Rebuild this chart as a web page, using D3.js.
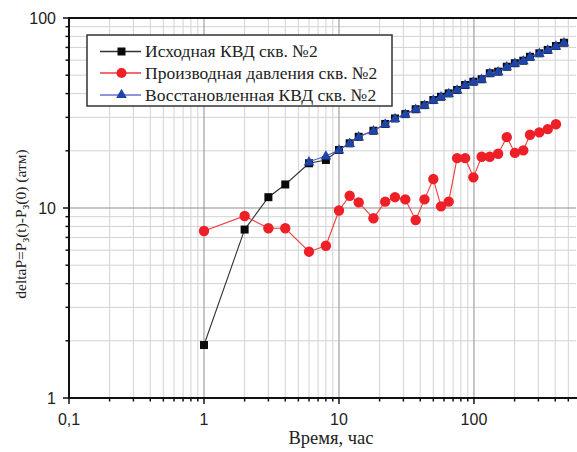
<!DOCTYPE html>
<html>
<head>
<meta charset="utf-8">
<script src="https://cdn.jsdelivr.net/npm/d3@7"></script>
<style>
  html, body { margin: 0; padding: 0; background: #fff; }
  svg { display: block; }
  .tick-label { font-family: "Liberation Sans", Arial, sans-serif; font-size: 16px; fill: #222; }
  .serif { font-family: "Liberation Serif", "Times New Roman", serif; fill: #222; }
</style>
</head>
<body>
<div id="chart"></div>
<script>
// DATA

// Исходная КВД скв. №2 (black squares)
const timeSource = [1, 2, 3, 4, 6, 8, 10, 12, 14, 18, 22, 26, 31, 37, 43, 50, 57, 65, 75, 86,
  99, 114, 131, 151, 175, 201, 232, 260, 305, 352, 405, 464];
const dpSource = [1.9, 7.7, 11.4, 13.3, 17.2, 17.9, 20.2, 21.9, 23.7, 25.5, 27.7, 29.6, 31.2, 33.1,
  34.8, 37.0, 38.5, 40.1, 41.8, 44.4, 46.2, 47.6, 51.2, 52.2, 55.4, 57.8, 59.6, 62.5, 65.2, 67.9,
  71.2, 74.1];

// Производная давления скв. №2 (red circles)
const timeDeriv = [1, 2, 3, 4, 6, 8, 10, 12, 14, 18, 22, 26, 31, 37, 43, 50, 57, 65, 75, 86,
  99, 114, 131, 151, 175, 201, 232, 260, 305, 352, 405];
const dpDeriv = [7.57, 9.08, 7.82, 7.82, 5.89, 6.33, 9.7, 11.6, 10.7, 8.83, 10.8, 11.4, 11.1, 8.65,
  11.1, 14.2, 10.2, 10.8, 18.3, 18.3, 14.5, 18.6, 18.6, 19.3, 23.6, 19.5, 20.1, 24.3, 25.0, 26.0,
  27.6];

// Восстановленная КВД скв. №2 (blue triangles)
const timeRestored = [6, 8, 10, 12, 14, 18, 22, 26, 31, 37, 43, 50, 57, 65, 75, 86, 99, 114,
  131, 151, 175, 201, 232, 260, 305, 352, 405, 464];
const dpRestored = [17.5, 18.8, 20.2, 21.9, 23.7, 25.5, 27.7, 29.6, 31.2, 33.1, 34.8, 37.0, 38.5,
  40.1, 41.8, 44.4, 46.2, 47.6, 51.2, 52.2, 55.4, 57.8, 59.6, 62.5, 65.2, 67.9, 71.2, 74.1];

const xTickValues = [0.1, 1, 10, 100];
const xTickLabels = ["0,1", "1", "10", "100"];
const yTickValues = [1, 10, 100];
const yTickLabels = ["1", "10", "100"];

const legendLabels = [
  "Исходная КВД скв. №2",
  "Производная давления скв. №2",
  "Восстановленная КВД скв. №2",
];

// LAYOUT

const W = 577, H = 452;
const plotL = 69, plotR = 576, plotT = 18, plotB = 398;

const x = d3.scaleLog().domain([0.1, 570]).range([plotL, plotR]);
const y = d3.scaleLog().domain([1, 100]).range([plotB, plotT]);

const svg = d3.select("#chart").append("svg")
  .attr("width", W).attr("height", H);

// GRID

// minor values 2..9 in every decade
const minorX = [];
[0.1, 1, 10, 100].forEach(d => {
  for (let k = 2; k <= 9; k++) if (d * k <= 570) minorX.push(d * k);
});
const minorY = [];
[1, 10].forEach(d => {
  for (let k = 2; k <= 9; k++) minorY.push(d * k);
});

const grid = svg.append("g");
grid.selectAll(".vminor").data(minorX).join("line")
  .attr("x1", d => x(d)).attr("x2", d => x(d))
  .attr("y1", plotT).attr("y2", plotB)
  .attr("stroke", "#d2d2d2").attr("stroke-width", 1);
grid.selectAll(".hminor").data(minorY).join("line")
  .attr("x1", plotL).attr("x2", plotR)
  .attr("y1", d => y(d)).attr("y2", d => y(d))
  .attr("stroke", "#d2d2d2").attr("stroke-width", 1);
grid.selectAll(".vmajor").data([1, 10, 100]).join("line")
  .attr("x1", d => x(d)).attr("x2", d => x(d))
  .attr("y1", plotT).attr("y2", plotB)
  .attr("stroke", "#a0a0a0").attr("stroke-width", 1.2);
grid.selectAll(".hmajor").data([10]).join("line")
  .attr("x1", plotL).attr("x2", plotR)
  .attr("y1", d => y(d)).attr("y2", d => y(d))
  .attr("stroke", "#909090").attr("stroke-width", 1.2);

// TICKS — majors longer, minors shorter, all pointing outwards

const ticks = svg.append("g").attr("stroke", "#111");
ticks.selectAll(".xt").data(xTickValues.concat(minorX)).join("line")
  .attr("x1", d => x(d)).attr("x2", d => x(d))
  .attr("y1", plotB)
  .attr("y2", d => plotB + (xTickValues.includes(d) ? 6 : 3.5))
  .attr("stroke-width", 1.5);
ticks.selectAll(".yt").data(yTickValues.concat(minorY)).join("line")
  .attr("y1", d => y(d)).attr("y2", d => y(d))
  .attr("x1", plotL)
  .attr("x2", d => plotL - (yTickValues.includes(d) ? 6 : 3.5))
  .attr("stroke-width", 1.5);

svg.append("g").selectAll("text").data(xTickValues).join("text")
  .attr("class", "tick-label")
  .attr("x", d => x(d)).attr("y", plotB + 27)
  .attr("text-anchor", "middle")
  .text((d, i) => xTickLabels[i]);

svg.append("g").selectAll("text").data(yTickValues).join("text")
  .attr("class", "tick-label")
  .attr("x", plotL - 13).attr("y", d => y(d) + 6)
  .attr("text-anchor", "end")
  .text((d, i) => yTickLabels[i]);

// frame lines
svg.append("line").attr("x1", plotL).attr("x2", plotL).attr("y1", plotT - 1).attr("y2", plotB + 1)
  .attr("stroke", "#111").attr("stroke-width", 2);
svg.append("line").attr("x1", plotL - 1).attr("x2", W).attr("y1", plotB).attr("y2", plotB)
  .attr("stroke", "#111").attr("stroke-width", 2);
svg.append("line").attr("x1", plotL - 1).attr("x2", W).attr("y1", plotT).attr("y2", plotT)
  .attr("stroke", "#111").attr("stroke-width", 2);

// axis titles
svg.append("text").attr("class", "serif")
  .attr("x", 331).attr("y", 444)
  .attr("text-anchor", "middle").attr("font-size", 18.5)
  .text("Время, час");

const yTitle = svg.append("text").attr("class", "serif")
  .attr("transform", "translate(26,224) rotate(-90)")
  .attr("text-anchor", "middle").attr("font-size", 15.5);
yTitle.append("tspan").text("deltaP=P");
yTitle.append("tspan").attr("dy", 3).attr("font-size", 12).text("з");
yTitle.append("tspan").attr("dy", -3).text("(t)-P");
yTitle.append("tspan").attr("dy", 3).attr("font-size", 12).text("з");
yTitle.append("tspan").attr("dy", -3).text("(0) (атм)");

// SERIES

const line = d3.line().x(d => x(d[0])).y(d => y(d[1]));

const srcPts = timeSource.map((t, i) => [t, dpSource[i]]);
const derPts = timeDeriv.map((t, i) => [t, dpDeriv[i]]);
const resPts = timeRestored.map((t, i) => [t, dpRestored[i]]);

const triangle = d3.symbol().type(d3.symbolTriangle).size(50);

// black
svg.append("path").datum(srcPts).attr("d", line)
  .attr("fill", "none").attr("stroke", "#333").attr("stroke-width", 1.1);
svg.append("g").selectAll("rect").data(srcPts).join("rect")
  .attr("x", d => x(d[0]) - 4).attr("y", d => y(d[1]) - 4)
  .attr("width", 8).attr("height", 8).attr("fill", "#0a0a0a");

// red
svg.append("path").datum(derPts).attr("d", line)
  .attr("fill", "none").attr("stroke", "#ee3b3b").attr("stroke-width", 1.1);
svg.append("g").selectAll("circle").data(derPts).join("circle")
  .attr("cx", d => x(d[0])).attr("cy", d => y(d[1]))
  .attr("r", 5.2).attr("fill", "#ee1f26");

// blue
svg.append("path").datum(resPts).attr("d", line)
  .attr("fill", "none").attr("stroke", "#5560c8").attr("stroke-width", 1.1);
svg.append("g").selectAll("path").data(resPts).join("path")
  .attr("d", triangle)
  .attr("transform", d => `translate(${x(d[0])},${y(d[1]) + 0.5})`)
  .attr("fill", "#1f44a8");

// LEGEND

const lg = svg.append("g");
lg.append("rect").attr("x", 87).attr("y", 35).attr("width", 305).attr("height", 71)
  .attr("fill", "#fff").attr("stroke", "#333").attr("stroke-width", 1.5);

const rowsY = [51.5, 73, 95];
const legendColors = ["#333", "#ee3b3b", "#6a70d0"];
lg.selectAll(".lline").data(rowsY).join("line")
  .attr("x1", 100).attr("x2", 141)
  .attr("y1", d => d).attr("y2", d => d)
  .attr("stroke", (d, i) => legendColors[i]).attr("stroke-width", 1.3);
lg.append("rect").attr("x", 117.5).attr("y", rowsY[0] - 4).attr("width", 8).attr("height", 8)
  .attr("fill", "#0a0a0a");
lg.append("circle").attr("cx", 121.5).attr("cy", rowsY[1]).attr("r", 5).attr("fill", "#ee1f26");
lg.append("path").attr("d", triangle).attr("transform", `translate(121.5,${rowsY[2]})`)
  .attr("fill", "#1f44a8");
lg.selectAll("text").data(legendLabels).join("text")
  .attr("class", "serif").attr("font-size", 17.5)
  .attr("x", 145).attr("y", (d, i) => rowsY[i] + 5.5)
  .text(d => d);
</script>
</body>
</html>
